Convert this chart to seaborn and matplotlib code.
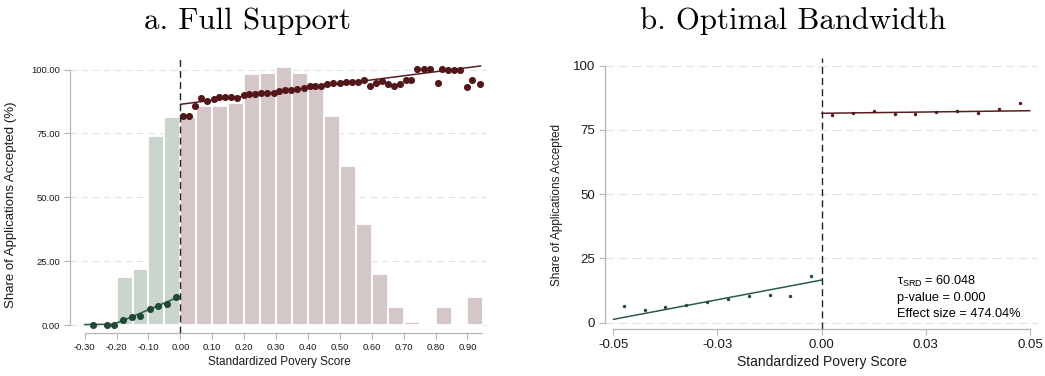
import numpy as np
import pandas as pd
import seaborn as sns
import matplotlib.pyplot as plt
from matplotlib.ticker import FormatStrFormatter

# --- panel a: full support ---
bar_mid_below = [-0.175, -0.125, -0.075, -0.025]
bar_share_below = [18.9, 22.0, 73.9, 81.4]
bar_mid_above = [0.025, 0.075, 0.125, 0.175, 0.225, 0.275, 0.325, 0.375, 0.425, 0.475,
                 0.525, 0.575, 0.625, 0.675, 0.725, 0.775, 0.825, 0.875, 0.925]
bar_share_above = [81.4, 85.9, 85.9, 86.8, 98.4, 98.6, 100.9, 98.6, 94.5, 81.8,
                   62.4, 39.6, 19.9, 7.2, 1.3, 0.0, 7.2, 0.0, 11.1]

pts_x_below = [-0.273, -0.231, -0.208, -0.179, -0.152, -0.126, -0.094, -0.069, -0.043, -0.013]
pts_y_below = [0.0, 0.0, 0.0, 1.9, 3.1, 3.6, 6.5, 7.7, 8.2, 11.2]
pts_x_above = [0.009, 0.028, 0.047, 0.066, 0.085, 0.104, 0.122, 0.141, 0.160, 0.179,
               0.198, 0.216, 0.235, 0.254, 0.273, 0.292, 0.310, 0.329, 0.348, 0.367,
               0.386, 0.405, 0.423, 0.442, 0.461, 0.480, 0.499, 0.519, 0.537, 0.556,
               0.575, 0.594, 0.612, 0.631, 0.650, 0.669, 0.688, 0.707, 0.724, 0.743,
               0.763, 0.783, 0.807, 0.820, 0.839, 0.858, 0.877, 0.900, 0.913, 0.940]
pts_y_above = [81.7, 81.7, 85.7, 88.9, 87.6, 88.6, 89.4, 89.3, 89.4, 88.7,
               89.9, 90.6, 90.6, 90.7, 90.7, 90.7, 91.5, 92.0, 92.0, 92.5,
               92.6, 93.6, 93.6, 93.6, 94.3, 94.6, 94.9, 95.2, 95.0, 95.2,
               95.9, 93.7, 94.6, 95.4, 94.3, 93.6, 94.2, 95.9, 96.0, 100.1,
               100.1, 100.1, 94.6, 100.1, 100.0, 100.0, 100.0, 93.0, 95.9, 94.2]

fit_x_below = [-0.30, -0.21, -0.15, -0.10, -0.05, 0.0]
fit_y_below = [0.3, 0.4, 3.4, 6.1, 8.7, 11.4]
fit_x_above = [0.0, 0.942]
fit_y_above = [86.4, 101.4]

ticks_a = [-0.3, -0.2, -0.1, 0.0, 0.1, 0.2, 0.3, 0.4, 0.5, 0.6, 0.7, 0.8, 0.9]

# --- panel b: optimal bandwidth ---
bw_x_below = [-0.0475, -0.0425, -0.0375, -0.0325, -0.0275, -0.0225, -0.0175, -0.0125, -0.0075, -0.0025]
bw_y_below = [6.5, 4.8, 6.2, 6.9, 7.9, 9.2, 10.5, 10.6, 10.5, 18.3]
bw_x_above = [0.0025, 0.0075, 0.0125, 0.0175, 0.0225, 0.0275, 0.0325, 0.0375, 0.0425, 0.0475]
bw_y_above = [80.8, 81.7, 82.3, 81.3, 81.3, 81.9, 82.5, 81.5, 83.2, 85.5]
bw_fit_x_below = [-0.05, 0.0]
bw_fit_y_below = [1.3, 16.6]
bw_fit_x_above = [0.0, 0.05]
bw_fit_y_above = [81.5, 82.5]

ticks_b = [-0.05, -0.025, 0.0, 0.025, 0.05]
tick_labels_b = ["-0.05", "-0.03", "0.00", "0.03", "0.05"]
y_ticks = [0, 25, 50, 75, 100]

stats_lines = [r"τ$_{\mathrm{SRD}}$ = 60.048", "p-value = 0.000", "Effect size = 474.04%"]

green_bar, red_bar = "#c9d5cd", "#d5c6c7"
green_dot, red_dot = "#1f4a35", "#531619"
green_line, red_line = "#2c5a42", "#5a1c20"
spine_col = "#b4b4b4"
grid_col = "#e2e2e2"

sns.set_style("white")
plt.rcParams["font.family"] = ["Liberation Sans", "DejaVu Sans"]
plt.rcParams["mathtext.fontset"] = "custom"
plt.rcParams["mathtext.rm"] = "Liberation Sans"

bars_below = pd.DataFrame({"mid": bar_mid_below, "share": bar_share_below})
bars_above = pd.DataFrame({"mid": bar_mid_above, "share": bar_share_above})

fig = plt.figure(figsize=(10.45, 3.76), dpi=100)
ax1 = fig.add_axes([70 / 1045, 42.7 / 376, 416.6 / 1045, 274 / 376])
ax2 = fig.add_axes([605 / 1045, 46.7 / 376, 433.3 / 1045, 271 / 376])

# panel a
sns.histplot(data=bars_below, x="mid", weights="share", bins=list(np.linspace(-0.2, 0.0, 5)),
             color=green_bar, alpha=1, edgecolor="white", linewidth=1.3, ax=ax1)
sns.histplot(data=bars_above, x="mid", weights="share", bins=list(np.linspace(0.0, 0.95, 20)),
             color=red_bar, alpha=1, edgecolor="white", linewidth=1.3, ax=ax1)
sns.lineplot(x=fit_x_below, y=fit_y_below, color=green_line, lw=1.1, ax=ax1)
sns.lineplot(x=fit_x_above, y=fit_y_above, color=red_line, lw=1.1, ax=ax1)
sns.scatterplot(x=pts_x_below, y=pts_y_below, color=green_dot, s=26, linewidth=0, ax=ax1, zorder=4)
sns.scatterplot(x=pts_x_above, y=pts_y_above, color=red_dot, s=26, linewidth=0, ax=ax1, zorder=4)
ax1.axvline(0, color="#222222", lw=1.0, ls=(0, (5, 3)), zorder=5)

ax1.set_xlim(-0.346, 0.96)
ax1.set_ylim(-3.13, 104)
ax1.set_xticks(ticks_a)
ax1.set_yticks(y_ticks)
ax1.xaxis.set_major_formatter(FormatStrFormatter("%.2f"))
ax1.yaxis.set_major_formatter(FormatStrFormatter("%.2f"))
ax1.set_xlabel("Standardized Povery Score", fontsize=8.5)
ax1.set_ylabel("Share of Applications Accepted (%)", fontsize=9.5)
ax1.xaxis.set_label_coords(0.503, -0.083)
ax1.yaxis.set_label_coords(-0.128, 0.468)
ax1.tick_params(axis="both", labelsize=6.8, pad=3)
ax1.spines["left"].set_bounds(0, 100)
ax1.spines["bottom"].set_bounds(-0.30, 0.947)
ax1.yaxis.grid(True, ls=(0, (6, 4)), color=grid_col, lw=0.8)
ax1.set_axisbelow(True)

# panel b
sns.lineplot(x=bw_fit_x_below, y=bw_fit_y_below, color=green_line, lw=1.1, ax=ax2)
sns.lineplot(x=bw_fit_x_above, y=bw_fit_y_above, color=red_line, lw=1.1, ax=ax2)
sns.scatterplot(x=bw_x_below, y=bw_y_below, color=green_dot, s=6, linewidth=0, ax=ax2, zorder=4)
sns.scatterplot(x=bw_x_above, y=bw_y_above, color=red_dot, s=6, linewidth=0, ax=ax2, zorder=4)
ax2.axvline(0, color="#222222", lw=1.0, ls=(0, (5, 3)), zorder=5)

ax2.set_xlim(-0.052, 0.052)
ax2.set_ylim(-2.57, 102.9)
ax2.set_xticks(ticks_b)
ax2.set_xticklabels(tick_labels_b)
ax2.set_yticks(y_ticks)
ax2.set_xlabel("Standardized Povery Score", fontsize=10)
ax2.set_ylabel("Share of Applications Accepted", fontsize=8.5)
ax2.xaxis.set_label_coords(0.4997, -0.094)
ax2.yaxis.set_label_coords(-0.097, 0.457)
ax2.tick_params(axis="both", labelsize=9.5, pad=3)
ax2.spines["left"].set_bounds(0, 100)
ax2.spines["bottom"].set_bounds(-0.05, 0.05)
ax2.yaxis.grid(True, ls=(0, (8, 4)), color=grid_col, lw=0.8)
ax2.set_axisbelow(True)

for i, line in enumerate(stats_lines):
    ax2.text(0.0181, 16.0 - 6.35 * i, line, fontsize=9.2, va="center", ha="left", color="black")

for ax in (ax1, ax2):
    ax.tick_params(axis="both", bottom=True, left=True, length=4, color=spine_col, width=0.8,
                   labelcolor="#1a1a1a")
    ax.xaxis.label.set_color("#1a1a1a")
    ax.yaxis.label.set_color("#1a1a1a")
    for side in ("top", "right"):
        ax.spines[side].set_visible(False)
    for side in ("left", "bottom"):
        ax.spines[side].set_color(spine_col)
        ax.spines[side].set_linewidth(0.9)

fig.text(247.5 / 1045, 1 - 29.3 / 376, "a. Full Support", family="cmr10", fontsize=22.2,
         ha="center", va="baseline", color="black")
fig.text(793.5 / 1045, 1 - 29.3 / 376, "b. Optimal Bandwidth", family="cmr10", fontsize=22.2,
         ha="center", va="baseline", color="black")

fig.savefig("out.png", dpi=100)
